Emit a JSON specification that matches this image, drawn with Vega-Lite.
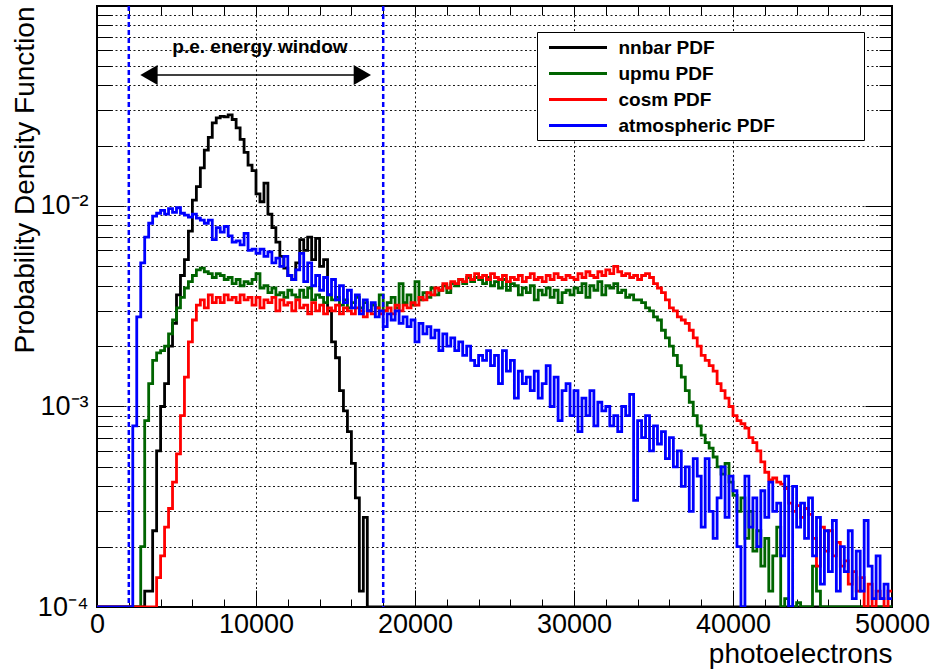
{
"$schema": "https://vega.github.io/schema/vega-lite/v6.json",
"width": 795, "height": 601,
"autosize": {"type": "none"},
"padding": {"left": 97, "top": 6, "right": 41, "bottom": 63},
"config": {
 "font": "Liberation Sans",
 "view": {"stroke": "black", "strokeWidth": 2},
 "axis": {"domain": false, "tickColor": "black", "labelColor": "black", "titleColor": "black", "gridColor": "black", "gridDash": [2, 2.5], "gridWidth": 1, "gridOpacity": 0.9, "labelFontSize": 27, "titleFontSize": 28, "titleFontWeight": "normal", "tickWidth": 1}
},
"datasets": {
"pdf": [
{"x":0,"nnbar":1e-5,"upmu":1e-5,"cosm":1e-5,"atm":1e-5},
{"x":250,"nnbar":1e-5,"upmu":1e-5,"cosm":1e-5,"atm":1e-5},
{"x":500,"nnbar":1e-5,"upmu":1e-5,"cosm":1e-5,"atm":1e-5},
{"x":750,"nnbar":1e-5,"upmu":1e-5,"cosm":1e-5,"atm":1e-5},
{"x":1000,"nnbar":1e-5,"upmu":1e-5,"cosm":1e-5,"atm":1e-5},
{"x":1250,"nnbar":1e-5,"upmu":1e-5,"cosm":1e-5,"atm":1e-5},
{"x":1500,"nnbar":1e-5,"upmu":1e-5,"cosm":1e-5,"atm":1e-5},
{"x":1750,"nnbar":1e-5,"upmu":1e-5,"cosm":1e-5,"atm":1e-5},
{"x":2000,"nnbar":1e-5,"upmu":1e-5,"cosm":1e-5,"atm":1e-5},
{"x":2250,"nnbar":1e-5,"upmu":1e-5,"cosm":1e-5,"atm":0.0008},
{"x":2500,"nnbar":1e-5,"upmu":1e-5,"cosm":1e-5,"atm":0.0028},
{"x":2750,"nnbar":1e-5,"upmu":0.0002,"cosm":1e-5,"atm":0.0052},
{"x":3000,"nnbar":0.00012,"upmu":0.00085,"cosm":1e-5,"atm":0.0070},
{"x":3250,"nnbar":0.00012,"upmu":0.0013,"cosm":1e-5,"atm":0.0082},
{"x":3500,"nnbar":0.00024,"upmu":0.0017,"cosm":1e-5,"atm":0.0089},
{"x":3750,"nnbar":0.0006,"upmu":0.00185,"cosm":0.00014,"atm":0.0092},
{"x":4000,"nnbar":0.001,"upmu":0.0019,"cosm":0.00018,"atm":0.0095},
{"x":4250,"nnbar":0.0013,"upmu":0.002,"cosm":0.00025,"atm":0.0091},
{"x":4500,"nnbar":0.002,"upmu":0.0023,"cosm":0.00031,"atm":0.0097},
{"x":4750,"nnbar":0.0026,"upmu":0.0027,"cosm":0.00042,"atm":0.0093},
{"x":5000,"nnbar":0.0036,"upmu":0.0031,"cosm":0.00058,"atm":0.0098},
{"x":5250,"nnbar":0.0045,"upmu":0.0035,"cosm":0.0009,"atm":0.0092},
{"x":5500,"nnbar":0.0054,"upmu":0.0039,"cosm":0.0014,"atm":0.0090},
{"x":5750,"nnbar":0.0075,"upmu":0.0042,"cosm":0.0021,"atm":0.0088},
{"x":6000,"nnbar":0.0107,"upmu":0.0045,"cosm":0.0027,"atm":0.0091},
{"x":6250,"nnbar":0.0125,"upmu":0.0048,"cosm":0.0032,"atm":0.0087},
{"x":6500,"nnbar":0.0155,"upmu":0.0049,"cosm":0.0034,"atm":0.0085},
{"x":6750,"nnbar":0.019,"upmu":0.0047,"cosm":0.0031,"atm":0.0082},
{"x":7000,"nnbar":0.022,"upmu":0.0046,"cosm":0.0036,"atm":0.0085},
{"x":7250,"nnbar":0.026,"upmu":0.0044,"cosm":0.0033,"atm":0.0068},
{"x":7500,"nnbar":0.0275,"upmu":0.0046,"cosm":0.0035,"atm":0.0078},
{"x":7750,"nnbar":0.028,"upmu":0.0045,"cosm":0.0033,"atm":0.0074},
{"x":8000,"nnbar":0.0278,"upmu":0.0043,"cosm":0.0036,"atm":0.0079},
{"x":8250,"nnbar":0.0285,"upmu":0.0044,"cosm":0.0034,"atm":0.0071},
{"x":8500,"nnbar":0.027,"upmu":0.0041,"cosm":0.0035,"atm":0.0066},
{"x":8750,"nnbar":0.0245,"upmu":0.0043,"cosm":0.0033,"atm":0.0067},
{"x":9000,"nnbar":0.0215,"upmu":0.004,"cosm":0.0036,"atm":0.0064},
{"x":9250,"nnbar":0.0185,"upmu":0.0042,"cosm":0.0034,"atm":0.0073},
{"x":9500,"nnbar":0.016,"upmu":0.0041,"cosm":0.0035,"atm":0.0060},
{"x":9750,"nnbar":0.015,"upmu":0.0043,"cosm":0.0032,"atm":0.0061},
{"x":10000,"nnbar":0.0115,"upmu":0.0046,"cosm":0.0035,"atm":0.0058},
{"x":10250,"nnbar":0.0105,"upmu":0.0039,"cosm":0.0031,"atm":0.0061},
{"x":10500,"nnbar":0.013,"upmu":0.004,"cosm":0.0034,"atm":0.0056},
{"x":10750,"nnbar":0.0091,"upmu":0.0037,"cosm":0.0033,"atm":0.0059},
{"x":11000,"nnbar":0.0078,"upmu":0.0039,"cosm":0.0035,"atm":0.0052},
{"x":11250,"nnbar":0.0066,"upmu":0.0036,"cosm":0.003,"atm":0.0055},
{"x":11500,"nnbar":0.0056,"upmu":0.0037,"cosm":0.0034,"atm":0.0050},
{"x":11750,"nnbar":0.0049,"upmu":0.0035,"cosm":0.0032,"atm":0.0056},
{"x":12000,"nnbar":0.0045,"upmu":0.0038,"cosm":0.0033,"atm":0.0045},
{"x":12250,"nnbar":0.0043,"upmu":0.0036,"cosm":0.003,"atm":0.0043},
{"x":12500,"nnbar":0.0052,"upmu":0.0035,"cosm":0.0034,"atm":0.0048},
{"x":12750,"nnbar":0.0068,"upmu":0.0038,"cosm":0.0031,"atm":0.0058},
{"x":13000,"nnbar":0.006,"upmu":0.0035,"cosm":0.0032,"atm":0.0042},
{"x":13250,"nnbar":0.007,"upmu":0.0039,"cosm":0.0029,"atm":0.0052},
{"x":13500,"nnbar":0.0054,"upmu":0.0034,"cosm":0.0033,"atm":0.0040},
{"x":13750,"nnbar":0.0069,"upmu":0.0036,"cosm":0.003,"atm":0.0045},
{"x":14000,"nnbar":0.005,"upmu":0.0035,"cosm":0.0032,"atm":0.0038},
{"x":14250,"nnbar":0.0054,"upmu":0.0033,"cosm":0.0029,"atm":0.0044},
{"x":14500,"nnbar":0.003,"upmu":0.0036,"cosm":0.0031,"atm":0.0036},
{"x":14750,"nnbar":0.0021,"upmu":0.0034,"cosm":0.003,"atm":0.0043},
{"x":15000,"nnbar":0.00175,"upmu":0.0035,"cosm":0.0032,"atm":0.0034},
{"x":15250,"nnbar":0.0012,"upmu":0.0032,"cosm":0.0029,"atm":0.0040},
{"x":15500,"nnbar":0.00095,"upmu":0.0034,"cosm":0.0031,"atm":0.0033},
{"x":15750,"nnbar":0.00075,"upmu":0.0031,"cosm":0.003,"atm":0.0038},
{"x":16000,"nnbar":0.00052,"upmu":0.0033,"cosm":0.0029,"atm":0.0031},
{"x":16250,"nnbar":0.00035,"upmu":0.0035,"cosm":0.0031,"atm":0.0036},
{"x":16500,"nnbar":0.00012,"upmu":0.0031,"cosm":0.003,"atm":0.0029},
{"x":16750,"nnbar":0.00028,"upmu":0.0033,"cosm":0.0028,"atm":0.0034},
{"x":17000,"nnbar":1e-5,"upmu":0.003,"cosm":0.003,"atm":0.0030},
{"x":17250,"nnbar":1e-5,"upmu":0.0032,"cosm":0.0029,"atm":0.0033},
{"x":17500,"nnbar":1e-5,"upmu":0.0031,"cosm":0.0031,"atm":0.0028},
{"x":17750,"nnbar":1e-5,"upmu":0.0036,"cosm":0.0029,"atm":0.0030},
{"x":18000,"nnbar":1e-5,"upmu":0.003,"cosm":0.003,"atm":0.0025},
{"x":18250,"nnbar":1e-5,"upmu":0.0033,"cosm":0.0031,"atm":0.0029},
{"x":18500,"nnbar":1e-5,"upmu":0.0035,"cosm":0.0029,"atm":0.0027},
{"x":18750,"nnbar":1e-5,"upmu":0.0031,"cosm":0.0032,"atm":0.0030},
{"x":19000,"nnbar":1e-5,"upmu":0.0041,"cosm":0.003,"atm":0.0026},
{"x":19250,"nnbar":1e-5,"upmu":0.0033,"cosm":0.0032,"atm":0.0028},
{"x":19500,"nnbar":1e-5,"upmu":0.0036,"cosm":0.0031,"atm":0.0025},
{"x":19750,"nnbar":1e-5,"upmu":0.0032,"cosm":0.0033,"atm":0.0027},
{"x":20000,"nnbar":1e-5,"upmu":0.0042,"cosm":0.0032,"atm":0.0021},
{"x":20250,"nnbar":1e-5,"upmu":0.0034,"cosm":0.0035,"atm":0.0026},
{"x":20500,"nnbar":1e-5,"upmu":0.0037,"cosm":0.0034,"atm":0.0023},
{"x":20750,"nnbar":1e-5,"upmu":0.0035,"cosm":0.0037,"atm":0.0025},
{"x":21000,"nnbar":1e-5,"upmu":0.0039,"cosm":0.0036,"atm":0.0022},
{"x":21250,"nnbar":1e-5,"upmu":0.0036,"cosm":0.0039,"atm":0.0024},
{"x":21500,"nnbar":1e-5,"upmu":0.0038,"cosm":0.0038,"atm":0.0019},
{"x":21750,"nnbar":1e-5,"upmu":0.004,"cosm":0.0041,"atm":0.0023},
{"x":22000,"nnbar":1e-5,"upmu":0.0037,"cosm":0.0039,"atm":0.0020},
{"x":22250,"nnbar":1e-5,"upmu":0.0041,"cosm":0.0042,"atm":0.0022},
{"x":22500,"nnbar":1e-5,"upmu":0.004,"cosm":0.0041,"atm":0.0019},
{"x":22750,"nnbar":1e-5,"upmu":0.0043,"cosm":0.0043,"atm":0.0021},
{"x":23000,"nnbar":1e-5,"upmu":0.0041,"cosm":0.0042,"atm":0.0018},
{"x":23250,"nnbar":1e-5,"upmu":0.0044,"cosm":0.0045,"atm":0.0020},
{"x":23500,"nnbar":1e-5,"upmu":0.0042,"cosm":0.0043,"atm":0.0017},
{"x":23750,"nnbar":1e-5,"upmu":0.0044,"cosm":0.0046,"atm":0.0016},
{"x":24000,"nnbar":1e-5,"upmu":0.0043,"cosm":0.0044,"atm":0.0018},
{"x":24250,"nnbar":1e-5,"upmu":0.0041,"cosm":0.0045,"atm":0.0017},
{"x":24500,"nnbar":1e-5,"upmu":0.0044,"cosm":0.0043,"atm":0.0019},
{"x":24750,"nnbar":1e-5,"upmu":0.004,"cosm":0.0046,"atm":0.0016},
{"x":25000,"nnbar":1e-5,"upmu":0.0042,"cosm":0.0044,"atm":0.0018},
{"x":25250,"nnbar":1e-5,"upmu":0.0039,"cosm":0.0043,"atm":0.0013},
{"x":25500,"nnbar":1e-5,"upmu":0.0043,"cosm":0.0045,"atm":0.0019},
{"x":25750,"nnbar":1e-5,"upmu":0.0038,"cosm":0.0042,"atm":0.0015},
{"x":26000,"nnbar":1e-5,"upmu":0.0041,"cosm":0.0044,"atm":0.0017},
{"x":26250,"nnbar":1e-5,"upmu":0.004,"cosm":0.0043,"atm":0.0011},
{"x":26500,"nnbar":1e-5,"upmu":0.0036,"cosm":0.0045,"atm":0.0015},
{"x":26750,"nnbar":1e-5,"upmu":0.0039,"cosm":0.0042,"atm":0.0013},
{"x":27000,"nnbar":1e-5,"upmu":0.0037,"cosm":0.0044,"atm":0.0014},
{"x":27250,"nnbar":1e-5,"upmu":0.004,"cosm":0.0046,"atm":0.0012},
{"x":27500,"nnbar":1e-5,"upmu":0.0034,"cosm":0.0043,"atm":0.0015},
{"x":27750,"nnbar":1e-5,"upmu":0.0038,"cosm":0.0044,"atm":0.0011},
{"x":28000,"nnbar":1e-5,"upmu":0.0036,"cosm":0.0042,"atm":0.0013},
{"x":28250,"nnbar":1e-5,"upmu":0.0039,"cosm":0.0045,"atm":0.0016},
{"x":28500,"nnbar":1e-5,"upmu":0.0035,"cosm":0.0043,"atm":0.0010},
{"x":28750,"nnbar":1e-5,"upmu":0.0038,"cosm":0.0046,"atm":0.0014},
{"x":29000,"nnbar":1e-5,"upmu":0.0033,"cosm":0.0044,"atm":0.00085},
{"x":29250,"nnbar":1e-5,"upmu":0.0037,"cosm":0.0043,"atm":0.0012},
{"x":29500,"nnbar":1e-5,"upmu":0.0038,"cosm":0.0045,"atm":0.0013},
{"x":29750,"nnbar":1e-5,"upmu":0.0036,"cosm":0.0044,"atm":0.0009},
{"x":30000,"nnbar":1e-5,"upmu":0.0039,"cosm":0.0043,"atm":0.0012},
{"x":30250,"nnbar":1e-5,"upmu":0.0037,"cosm":0.0046,"atm":0.00075},
{"x":30500,"nnbar":1e-5,"upmu":0.0041,"cosm":0.0044,"atm":0.0011},
{"x":30750,"nnbar":1e-5,"upmu":0.0035,"cosm":0.0047,"atm":0.0009},
{"x":31000,"nnbar":1e-5,"upmu":0.004,"cosm":0.0045,"atm":0.0012},
{"x":31250,"nnbar":1e-5,"upmu":0.0038,"cosm":0.0044,"atm":0.0008},
{"x":31500,"nnbar":1e-5,"upmu":0.0042,"cosm":0.0047,"atm":0.00105},
{"x":31750,"nnbar":1e-5,"upmu":0.0036,"cosm":0.0045,"atm":0.00095},
{"x":32000,"nnbar":1e-5,"upmu":0.004,"cosm":0.0048,"atm":0.0010},
{"x":32250,"nnbar":1e-5,"upmu":0.0039,"cosm":0.0046,"atm":0.0008},
{"x":32500,"nnbar":1e-5,"upmu":0.0041,"cosm":0.005,"atm":0.0009},
{"x":32750,"nnbar":1e-5,"upmu":0.0037,"cosm":0.0047,"atm":0.00075},
{"x":33000,"nnbar":1e-5,"upmu":0.0038,"cosm":0.0045,"atm":0.0010},
{"x":33250,"nnbar":1e-5,"upmu":0.0035,"cosm":0.0046,"atm":0.0009},
{"x":33500,"nnbar":1e-5,"upmu":0.0036,"cosm":0.0044,"atm":0.00115},
{"x":33750,"nnbar":1e-5,"upmu":0.0034,"cosm":0.0045,"atm":0.00034},
{"x":34000,"nnbar":1e-5,"upmu":0.0034,"cosm":0.0043,"atm":0.00085},
{"x":34250,"nnbar":1e-5,"upmu":0.0033,"cosm":0.0045,"atm":0.0007},
{"x":34500,"nnbar":1e-5,"upmu":0.0031,"cosm":0.0046,"atm":0.0009},
{"x":34750,"nnbar":1e-5,"upmu":0.003,"cosm":0.0044,"atm":0.0006},
{"x":35000,"nnbar":1e-5,"upmu":0.0028,"cosm":0.0041,"atm":0.0008},
{"x":35250,"nnbar":1e-5,"upmu":0.0027,"cosm":0.0039,"atm":0.00065},
{"x":35500,"nnbar":1e-5,"upmu":0.0024,"cosm":0.0037,"atm":0.00075},
{"x":35750,"nnbar":1e-5,"upmu":0.0022,"cosm":0.0034,"atm":0.00055},
{"x":36000,"nnbar":1e-5,"upmu":0.002,"cosm":0.0031,"atm":0.0007},
{"x":36250,"nnbar":1e-5,"upmu":0.0018,"cosm":0.003,"atm":0.0005},
{"x":36500,"nnbar":1e-5,"upmu":0.0016,"cosm":0.0028,"atm":0.0006},
{"x":36750,"nnbar":1e-5,"upmu":0.0014,"cosm":0.0027,"atm":0.0004},
{"x":37000,"nnbar":1e-5,"upmu":0.0012,"cosm":0.0026,"atm":0.0005},
{"x":37250,"nnbar":1e-5,"upmu":0.00105,"cosm":0.0024,"atm":0.0003},
{"x":37500,"nnbar":1e-5,"upmu":0.0009,"cosm":0.0022,"atm":0.00055},
{"x":37750,"nnbar":1e-5,"upmu":0.0008,"cosm":0.002,"atm":0.00045},
{"x":38000,"nnbar":1e-5,"upmu":0.00072,"cosm":0.0018,"atm":0.00025},
{"x":38250,"nnbar":1e-5,"upmu":0.00066,"cosm":0.0017,"atm":0.00055},
{"x":38500,"nnbar":1e-5,"upmu":0.00062,"cosm":0.0016,"atm":0.0003},
{"x":38750,"nnbar":1e-5,"upmu":0.00056,"cosm":0.0015,"atm":0.00022},
{"x":39000,"nnbar":1e-5,"upmu":0.0005,"cosm":0.0013,"atm":0.00035},
{"x":39250,"nnbar":1e-5,"upmu":0.00046,"cosm":0.0012,"atm":0.0005},
{"x":39500,"nnbar":1e-5,"upmu":0.00052,"cosm":0.0011,"atm":0.00028},
{"x":39750,"nnbar":1e-5,"upmu":0.00042,"cosm":0.001,"atm":0.00045},
{"x":40000,"nnbar":1e-5,"upmu":0.00036,"cosm":0.0009,"atm":0.00038},
{"x":40250,"nnbar":1e-5,"upmu":0.0003,"cosm":0.00085,"atm":0.0002},
{"x":40500,"nnbar":1e-5,"upmu":0.00035,"cosm":0.00082,"atm":1e-5},
{"x":40750,"nnbar":1e-5,"upmu":0.00022,"cosm":0.00078,"atm":0.00045},
{"x":41000,"nnbar":1e-5,"upmu":0.0003,"cosm":0.0007,"atm":0.00025},
{"x":41250,"nnbar":1e-5,"upmu":0.00019,"cosm":0.00066,"atm":0.00035},
{"x":41500,"nnbar":1e-5,"upmu":0.00024,"cosm":0.0006,"atm":0.0002},
{"x":41750,"nnbar":1e-5,"upmu":0.00016,"cosm":0.00053,"atm":0.00038},
{"x":42000,"nnbar":1e-5,"upmu":0.00022,"cosm":0.00047,"atm":0.00028},
{"x":42250,"nnbar":1e-5,"upmu":0.00012,"cosm":0.00043,"atm":0.00042},
{"x":42500,"nnbar":1e-5,"upmu":0.00018,"cosm":0.00044,"atm":0.0003},
{"x":42750,"nnbar":1e-5,"upmu":0.00025,"cosm":0.00042,"atm":0.00033},
{"x":43000,"nnbar":1e-5,"upmu":1e-5,"cosm":0.00041,"atm":0.00018},
{"x":43250,"nnbar":1e-5,"upmu":0.00011,"cosm":0.00039,"atm":0.00045},
{"x":43500,"nnbar":1e-5,"upmu":1e-5,"cosm":0.00033,"atm":1e-5},
{"x":43750,"nnbar":1e-5,"upmu":1e-5,"cosm":0.0003,"atm":0.0004},
{"x":44000,"nnbar":1e-5,"upmu":0.000105,"cosm":0.00032,"atm":0.00025},
{"x":44250,"nnbar":1e-5,"upmu":1e-5,"cosm":0.00028,"atm":0.00033},
{"x":44500,"nnbar":1e-5,"upmu":1e-5,"cosm":0.00031,"atm":0.00022},
{"x":44750,"nnbar":1e-5,"upmu":1e-5,"cosm":0.00029,"atm":0.00035},
{"x":45000,"nnbar":1e-5,"upmu":0.00016,"cosm":0.00022,"atm":0.00018},
{"x":45250,"nnbar":1e-5,"upmu":0.00012,"cosm":0.00016,"atm":0.00028},
{"x":45500,"nnbar":1e-5,"upmu":1e-5,"cosm":0.00025,"atm":0.00013},
{"x":45750,"nnbar":1e-5,"upmu":1e-5,"cosm":0.00019,"atm":0.00024},
{"x":46000,"nnbar":1e-5,"upmu":1e-5,"cosm":0.00024,"atm":0.00015},
{"x":46250,"nnbar":1e-5,"upmu":1e-5,"cosm":0.00018,"atm":0.00027},
{"x":46500,"nnbar":1e-5,"upmu":1e-5,"cosm":0.00021,"atm":0.00012},
{"x":46750,"nnbar":1e-5,"upmu":1e-5,"cosm":0.00016,"atm":0.0002},
{"x":47000,"nnbar":1e-5,"upmu":1e-5,"cosm":0.00017,"atm":0.00015},
{"x":47250,"nnbar":1e-5,"upmu":1e-5,"cosm":0.00013,"atm":0.00024},
{"x":47500,"nnbar":1e-5,"upmu":1e-5,"cosm":0.00015,"atm":0.00011},
{"x":47750,"nnbar":1e-5,"upmu":1e-5,"cosm":0.00012,"atm":0.00019},
{"x":48000,"nnbar":1e-5,"upmu":1e-5,"cosm":0.00014,"atm":0.00012},
{"x":48250,"nnbar":1e-5,"upmu":1e-5,"cosm":1e-5,"atm":0.00027},
{"x":48500,"nnbar":1e-5,"upmu":1e-5,"cosm":0.00013,"atm":0.00016},
{"x":48750,"nnbar":1e-5,"upmu":1e-5,"cosm":1e-5,"atm":0.00011},
{"x":49000,"nnbar":1e-5,"upmu":1e-5,"cosm":0.00012,"atm":0.00018},
{"x":49250,"nnbar":1e-5,"upmu":1e-5,"cosm":0.00011,"atm":0.00011},
{"x":49500,"nnbar":1e-5,"upmu":1e-5,"cosm":1e-5,"atm":0.00013},
{"x":49750,"nnbar":1e-5,"upmu":1e-5,"cosm":0.00012,"atm":0.00011},
{"x":50000,"nnbar":1e-5,"upmu":1e-5,"cosm":0.00012,"atm":0.00011}
]
},
"layer": [
{
 "data": {"name": "pdf"},
 "transform": [{"fold": ["nnbar", "upmu", "cosm", "atm"], "as": ["series", "density"]}],
 "mark": {"type": "line", "interpolate": "step-after", "strokeWidth": 2.8, "clip": true},
 "encoding": {
  "x": {"field": "x", "type": "quantitative", "scale": {"domain": [0, 50000], "nice": false, "zero": false},
   "axis": {"orient": "bottom", "values": [0, 10000, 20000, 30000, 40000, 50000], "tickSize": -17, "labelPadding": 42, "labelBaseline": "alphabetic", "labelFlush": false, "grid": true, "format": "d",
    "title": "photoelectrons", "titleX": 795, "titleY": 55, "titleAlign": "right", "titleBaseline": "alphabetic", "titleAngle": 0}},
  "y": {"field": "density", "type": "quantitative", "scale": {"type": "log", "domain": [0.0001, 0.0994], "nice": false, "clamp": true},
   "axis": {"orient": "left", "values": [0.0001, 0.001, 0.01], "tickSize": -27, "labelPadding": 36, "grid": true,
    "labelExpr": "datum.value < 0.0005 ? '10\u207b\u2074' : datum.value < 0.005 ? '10\u207b\u00b3' : '10\u207b\u00b2'",
    "title": "Probability Density Function", "titleX": -64, "titleY": 0, "titleAngle": -90, "titleAlign": "right", "titleBaseline": "alphabetic"}},
  "color": {"field": "series", "type": "nominal",
   "scale": {"domain": ["nnbar", "upmu", "cosm", "atm"], "range": ["#000000", "#006400", "#ff0000", "#0000ff"]},
   "legend": {"orient": "none", "legendX": 440, "legendY": 26, "title": null, "strokeColor": "black", "fillColor": "white", "padding": 4,
    "symbolType": "M-2.9,0H2.9", "symbolSize": 400, "symbolStrokeWidth": 3, "symbolOffset": 25.5, "labelOffset": 29,
    "labelFontSize": 19, "labelFontWeight": "bold", "labelLimit": 500, "rowPadding": 4,
    "labelExpr": "datum.label == 'atm' ? 'atmospheric PDF\u00a0\u00a0\u00a0\u00a0\u00a0\u00a0\u00a0\u00a0\u00a0\u00a0\u00a0\u00a0\u00a0\u00a0\u00a0\u00a0\u200b' : datum.label + ' PDF'"}}
 }
},
{
 "data": {"values": [{"x": 2000}, {"x": 18000}]},
 "mark": {"type": "rule", "color": "#0000ff", "strokeWidth": 2.5, "strokeDash": [5, 3]},
 "encoding": {
  "x": {"field": "x", "type": "quantitative", "scale": {"domain": [0, 50000], "nice": false, "zero": false},
   "axis": {"orient": "bottom", "values": [2000,4000,6000,8000,12000,14000,16000,18000,22000,24000,26000,28000,32000,34000,36000,38000,42000,44000,46000,48000], "tickSize": -8, "labels": false, "grid": false, "title": null}}
 }
},
{
 "data": {"values": [{"x": 3000, "x2": 16850, "y": 0.045}]},
 "mark": {"type": "rule", "color": "black", "strokeWidth": 1.5},
 "encoding": {
  "x": {"field": "x", "type": "quantitative", "scale": {"domain": [0, 50000], "nice": false, "zero": false},
   "axis": {"orient": "top", "values": [2000,4000,6000,8000,10000,12000,14000,16000,18000,20000,22000,24000,26000,28000,30000,32000,34000,36000,38000,40000,42000,44000,46000,48000], "tickSize": -9, "labels": false, "grid": false, "title": null}},
  "x2": {"field": "x2"},
  "y": {"field": "y", "type": "quantitative", "scale": {"type": "log", "domain": [0.0001, 0.0994], "nice": false, "clamp": true},
   "axis": {"orient": "left", "values": [0.0002,0.0003,0.0004,0.0005,0.0006,0.0007,0.0008,0.0009,0.002,0.003,0.004,0.005,0.006,0.007,0.008,0.009,0.02,0.03,0.04,0.05,0.06,0.07,0.08,0.09], "tickSize": -14, "labels": false, "grid": true, "title": null}}
 }
},
{
 "data": {"values": [{"x": 3270, "y": 0.045, "dir": "left"}, {"x": 16690, "y": 0.045, "dir": "right"}]},
 "mark": {"type": "point", "filled": true, "color": "black", "opacity": 1, "size": 400},
 "encoding": {
  "x": {"field": "x", "type": "quantitative", "scale": {"domain": [0, 50000], "nice": false, "zero": false}, "axis": null},
  "y": {"field": "y", "type": "quantitative", "scale": {"type": "log", "domain": [0.0001, 0.0994], "nice": false, "clamp": true},
   "axis": {"orient": "right", "values": [0.0001, 0.001, 0.01], "tickSize": -27, "labels": false, "grid": false, "title": null}},
  "shape": {"field": "dir", "type": "nominal", "scale": {"domain": ["left", "right"], "range": ["triangle-left", "triangle-right"]}, "legend": null}
 }
},
{
 "data": {"values": [{"x": 10250, "y": 0.058, "label": "p.e. energy window"}]},
 "mark": {"type": "text", "font": "Liberation Sans", "fontSize": 19, "fontWeight": "bold", "align": "center", "baseline": "alphabetic", "color": "black"},
 "encoding": {
  "x": {"field": "x", "type": "quantitative", "scale": {"domain": [0, 50000], "nice": false, "zero": false}, "axis": null},
  "y": {"field": "y", "type": "quantitative", "scale": {"type": "log", "domain": [0.0001, 0.0994], "nice": false, "clamp": true},
   "axis": {"orient": "right", "values": [0.0002,0.0003,0.0004,0.0005,0.0006,0.0007,0.0008,0.0009,0.002,0.003,0.004,0.005,0.006,0.007,0.008,0.009,0.02,0.03,0.04,0.05,0.06,0.07,0.08,0.09], "tickSize": -13, "labels": false, "grid": false, "title": null}},
  "text": {"field": "label", "type": "nominal"}
 }
}
],
"resolve": {"axis": {"x": "independent", "y": "independent"}}
}
